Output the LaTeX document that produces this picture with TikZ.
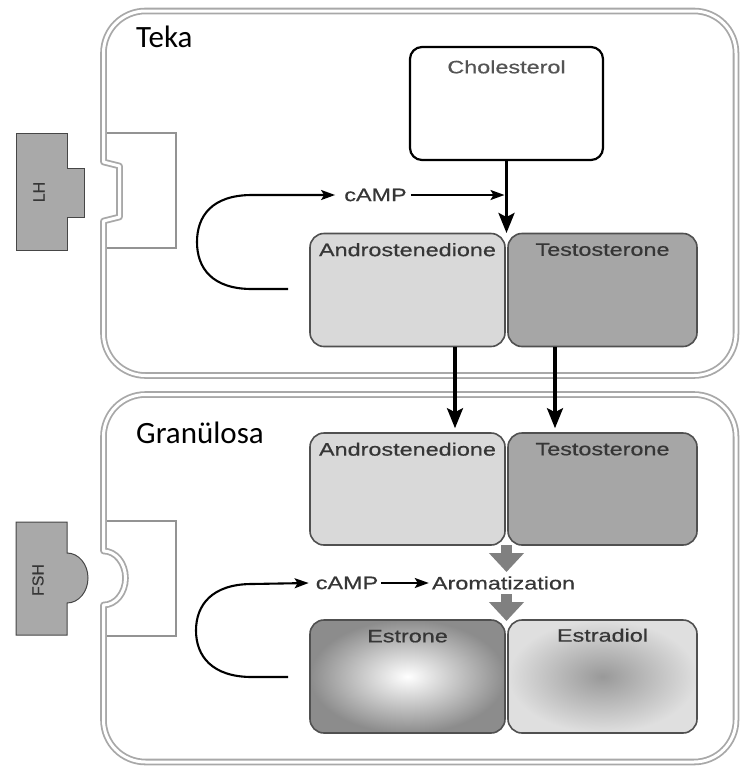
\documentclass[tikz,border=0pt]{standalone}
\usepackage{fontspec}
\usetikzlibrary{arrows.meta}
\newfontfamily\cellfont{Carlito}
\newfontfamily\lblfont[FakeStretch=1.3,FakeBold=0.6]{Liberation Sans}
\newfontfamily\ligfont[FakeBold=0.4]{Liberation Sans}
\definecolor{wallgray}{HTML}{A8A8A8}
\definecolor{boxedge}{HTML}{505050}
\definecolor{lightfill}{HTML}{D9D9D9}
\definecolor{darkfill}{HTML}{A6A6A6}
\definecolor{txt}{HTML}{363636}
\definecolor{ligfill}{HTML}{A9A9A9}
\definecolor{blockarrow}{HTML}{808080}
\begin{document}
\begin{tikzpicture}[x=1pt,y=-1pt,
  wall/.style={draw=wallgray, line width=1.8pt, double=white, double distance=3pt, line join=round},
  receptor/.style={draw=gray!85, line width=1.3pt},
  ligand/.style={fill=ligfill, draw=gray!55!black, line width=1pt},
  hormone/.style={draw=boxedge, line width=1.6pt, rounded corners=14pt, minimum height=113pt, inner sep=0pt},
  lbl/.style={font=\lblfont\fontsize{18}{20}\selectfont, text=txt, inner sep=0pt},
  liglbl/.style={font=\ligfont\fontsize{16}{18}\selectfont, text=txt, inner sep=0pt, rotate=90},
  celllbl/.style={font=\cellfont\fontsize{31}{36}\selectfont, inner sep=0pt, anchor=west},
  flow/.style={line width=3.2pt, -{Stealth[length=20pt,width=16pt,inset=4pt]}},
  signal/.style={line width=2.1pt, -{Stealth[length=14pt,width=10pt,inset=3pt]}},
  block/.style={line width=11pt, draw=blockarrow, -{Triangle[length=19pt,width=34pt]}}
]
\fill[white] (0,0) rectangle (741,769);
\useasboundingbox (0,0) rectangle (741,769);

% theca cell membrane with the LH receptor notch
\draw[wall] (103.5,221) -- (103.5,333.5) arc[start angle=180,end angle=270,radius=42pt]
  -- (694,375.5) arc[start angle=270,end angle=360,radius=42pt]
  -- (736,53) arc[start angle=0,end angle=90,radius=42pt]
  -- (145.5,11) arc[start angle=90,end angle=180,radius=42pt]
  -- (103.5,162) -- (119.5,166) -- (119.5,217) -- cycle;

% granulosa cell membrane with the FSH receptor pocket
\draw[wall] (103.5,605) -- (103.5,720) arc[start angle=180,end angle=270,radius=42pt]
  -- (694,762) arc[start angle=270,end angle=360,radius=42pt]
  -- (736,436.5) arc[start angle=0,end angle=90,radius=42pt]
  -- (145.5,394.5) arc[start angle=90,end angle=180,radius=42pt]
  -- (103.5,551) arc[start angle=90,end angle=-90,x radius=22pt,y radius=27pt] -- cycle;

% receptors
\draw[receptor] (107,133) -- (176,133) -- (176,248) -- (107,248);
\draw[receptor] (107,521) -- (176,521) -- (176,636) -- (107,636);

% hormones
\draw[ligand] (16,133) -- (67,133) -- (67,168) -- (84,168) -- (84,217) -- (67,217) -- (67,250) -- (16,250) -- cycle;
\node[liglbl] (lh) at (39,192) {LH};
\draw[ligand] (16,522) -- (67,522) -- (67,553) arc[start angle=90,end angle=-90,x radius=21pt,y radius=25pt] -- (67,635) -- (16,635) -- cycle;
\node[liglbl] (fsh) at (38,580) {FSH};

% cell names
\node[celllbl] (teka) at (136,37) {Teka};
\node[celllbl] (gran) at (136,433) {Granülosa};

% theca: steroid boxes
\node[draw=black, line width=2.2pt, rounded corners=12pt, minimum width=193pt, minimum height=113pt, fill=white, inner sep=0pt] (chol) at (506.5,103.5) {};
\node[lbl, text=txt!85] (chollab) at ([yshift=-21pt]chol.north) {Cholesterol};
\node[hormone, fill=lightfill, minimum width=195pt] (ta) at (407.5,290) {};
\node[hormone, fill=darkfill, minimum width=189pt] (tt) at (602.5,290) {};
\node[lbl] (talab) at ([yshift=-17pt]ta.north) {Androstenedione};
\node[lbl] (ttlab) at ([yshift=-17pt]tt.north) {Testosterone};

% granulosa: steroid boxes
\node[hormone, fill=lightfill, minimum width=195pt, minimum height=112pt] (ba) at (407.5,489) {};
\node[hormone, fill=darkfill, minimum width=189pt, minimum height=112pt] (bt) at (602.5,489) {};
\node[lbl] (balab) at ([yshift=-17pt]ba.north) {Androstenedione};
\node[lbl] (btlab) at ([yshift=-17pt]bt.north) {Testosterone};
\node[hormone, shade, inner color=white, outer color=gray!90, minimum width=195pt] (es) at (407.5,676.5) {};
\node[hormone, shade, inner color=gray!80, outer color=gray!25, minimum width=189pt] (ed) at (602.5,676.5) {};
\node[lbl] (eslab) at ([yshift=-17pt]es.north) {Estrone};
\node[lbl] (edlab) at ([yshift=-16pt]ed.north) {Estradiol};

% theca signalling
\coordinate (tj) at (506.5,233);
\coordinate (hit) at (504.5,195);
\coordinate (loop1) at (288,289);
\node[lbl] (camp1) at (375.5,195) {cAMP};
\draw[flow] (chol.south) -- (tj);
\draw[signal] (loop1) -- (252,289) .. controls (212,289) and (197,268) .. (197,242)
  .. controls (197,216) and (212,195) .. (252,195) -- ([xshift=-9pt]camp1.west);
\draw[signal] ([xshift=4pt]camp1.east) -- (hit);

% transfer between the cells
\draw[flow] ([xshift=47.5pt]ta.south) -- ([xshift=47.5pt,yshift=4pt]ba.north);
\draw[flow] ([xshift=-47.5pt]tt.south) -- ([xshift=-47.5pt,yshift=4pt]bt.north);

% granulosa signalling and aromatization
\coordinate (bj) at (506.5,545);
\coordinate (bj2) at (506.5,572);
\coordinate (bj3) at (506.5,594);
\coordinate (bj4) at (506.5,621);
\coordinate (loop2) at (288,677);
\node[lbl] (camp2) at (347,583) {cAMP};
\node[lbl] (arom) at (503.5,583) {Aromatization};
\draw[block] (bj) -- (bj2);
\draw[block] (bj3) -- (bj4);
\draw[signal] (loop2) -- (252,677) .. controls (212,677) and (196,656) .. (196,630.5)
  .. controls (196,605) and (212,584) .. (252,584) -- ([xshift=-7pt]camp2.west);
\draw[signal] ([xshift=3pt]camp2.east) -- ([xshift=-3pt]arom.west);
\end{tikzpicture}
\end{document}
